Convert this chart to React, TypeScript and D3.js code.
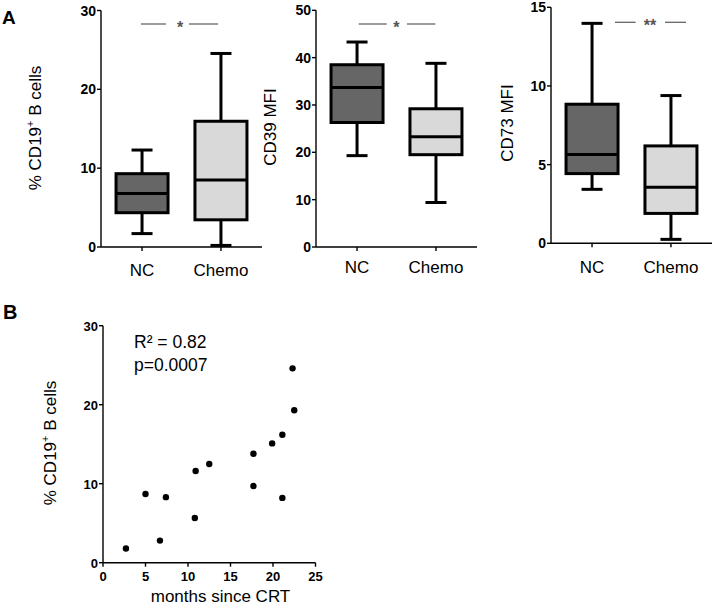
import React from "react";
import * as d3 from "d3";

const categories = ["NC", "Chemo"];

// box stats: [min, q1, median, q3, max]
const cd19Box = [
  [1.7, 4.35, 6.8, 9.3, 12.3],
  [0.2, 3.45, 8.5, 15.95, 24.55],
];
const cd39Box = [
  [19.3, 26.3, 33.7, 38.5, 43.3],
  [9.4, 19.5, 23.3, 29.2, 38.8],
];
const cd73Box = [
  [3.43, 4.43, 5.64, 8.84, 13.98],
  [0.25, 1.9, 3.56, 6.19, 9.39],
];

const cd19Ticks = [0, 10, 20, 30];
const cd39Ticks = [0, 10, 20, 30, 40, 50];
const cd73Ticks = [0, 5, 10, 15];

const monthsX = [2.7, 5.0, 7.4, 6.7, 10.9, 10.8, 12.5, 17.7, 17.7, 19.9, 21.1, 21.1, 22.3, 22.5];
const cd19Y = [1.8, 8.7, 8.3, 2.8, 11.6, 5.66, 12.5, 13.8, 9.7, 15.1, 16.2, 8.2, 24.6, 19.3];
const scatterXTicks = [0, 5, 10, 15, 20, 25];
const scatterYTicks = [0, 10, 20, 30];

const FONT = "'Liberation Sans', Arial, Helvetica, sans-serif";
const fills = ["#666666", "#d9d9d9"];

type PanelProps = {
  stats: number[][];
  ticks: number[];
  max: number;
  axisX: number;
  y0: number;
  yTop: number;
  label: React.ReactNode;
  labelX: number;
  labelY: number;
  catBaseline: number;
  sig: { y: number; l1: [number, number]; l2: [number, number]; sx: number; text: string };
};

function BoxPanel(p: PanelProps) {
  const y = d3.scaleLinear().domain([0, p.max]).range([p.y0, p.yTop]);
  const x = d3.scalePoint<string>().domain(categories).range([p.axisX, p.axisX + 161]).padding(0.52);
  const boxW = 52;
  const capW = 21;
  return (
    <g>
      <line x1={p.axisX} x2={p.axisX} y1={y(0)} y2={y(p.max)} stroke="#000" strokeWidth={1.4} />
      {p.ticks.map((t) => (
        <g key={t}>
          <line x1={p.axisX - 4} x2={p.axisX} y1={y(t)} y2={y(t)} stroke="#000" strokeWidth={1.4} />
          <text x={p.axisX - 5} y={y(t) + 5} textAnchor="end" fontSize={14} fontWeight="bold" fontFamily={FONT}>
            {t}
          </text>
        </g>
      ))}
      <line x1={p.axisX} x2={p.axisX + 161} y1={y(0)} y2={y(0)} stroke="#000" strokeWidth={1.4} />
      {categories.map((c) => (
        <g key={c}>
          <line x1={x(c)} x2={x(c)} y1={y(0)} y2={y(0) + 4} stroke="#000" strokeWidth={1.4} />
          <text x={x(c)} y={p.catBaseline} textAnchor="middle" fontSize={17} fontFamily={FONT}>
            {c}
          </text>
        </g>
      ))}
      {p.stats.map((s, i) => {
        const cx = x(categories[i]) as number;
        const [mn, q1, md, q3, mx] = s;
        return (
          <g key={i} stroke="#000" strokeWidth={3}>
            <line x1={cx} x2={cx} y1={y(mx)} y2={y(q3)} />
            <line x1={cx} x2={cx} y1={y(q1)} y2={y(mn)} />
            <line x1={cx - capW / 2} x2={cx + capW / 2} y1={y(mx)} y2={y(mx)} />
            <line x1={cx - capW / 2} x2={cx + capW / 2} y1={y(mn)} y2={y(mn)} />
            <rect x={cx - boxW / 2} y={y(q3)} width={boxW} height={y(q1) - y(q3)} fill={fills[i]} />
            <line x1={cx - boxW / 2} x2={cx + boxW / 2} y1={y(md)} y2={y(md)} />
          </g>
        );
      })}
      <g stroke="#666" strokeWidth={1.3}>
        <line x1={p.sig.l1[0]} x2={p.sig.l1[1]} y1={p.sig.y} y2={p.sig.y} />
        <line x1={p.sig.l2[0]} x2={p.sig.l2[1]} y1={p.sig.y} y2={p.sig.y} />
      </g>
      <text x={p.sig.sx} y={p.sig.y + 9} textAnchor="middle" fontSize={16} fontWeight="bold" fill="#555" fontFamily={FONT}>
        {p.sig.text}
      </text>
      <text
        transform={`translate(${p.labelX},${p.labelY}) rotate(-90)`}
        textAnchor="middle"
        dy="0.35em"
        fontSize={17}
        fontFamily={FONT}
      >
        {p.label}
      </text>
    </g>
  );
}

const cd19Label = (
  <>
    <tspan>% CD19</tspan>
    <tspan fontSize={11} dy={-7}>+</tspan>
    <tspan dy={7}> B cells</tspan>
  </>
);

export default function App() {
  const sx = d3.scaleLinear().domain([0, 25]).range([103, 315.5]);
  const sy = d3.scaleLinear().domain([0, 30]).range([562.7, 325.7]);
  return (
    <svg width={713} height={607} style={{ position: "absolute", left: 0, top: 0, background: "#fff" }}>
      <rect width={713} height={607} fill="#fff" />
      <text x={2} y={24} fontSize={19} fontWeight="bold" fontFamily={FONT}>A</text>
      <text x={3} y={319} fontSize={20} fontWeight="bold" fontFamily={FONT}>B</text>

      <BoxPanel
        stats={cd19Box}
        ticks={cd19Ticks}
        max={30}
        axisX={101}
        y0={247}
        yTop={10.5}
        label={cd19Label}
        labelX={35}
        labelY={128}
        catBaseline={276}
        sig={{ y: 24, l1: [141, 166], l2: [189, 218], sx: 180, text: "*" }}
      />
      <BoxPanel
        stats={cd39Box}
        ticks={cd39Ticks}
        max={50}
        axisX={316}
        y0={247}
        yTop={10.3}
        label="CD39 MFI"
        labelX={270}
        labelY={127}
        catBaseline={273}
        sig={{ y: 24, l1: [358.7, 386.7], l2: [407, 435.3], sx: 396.3, text: "*" }}
      />
      <BoxPanel
        stats={cd73Box}
        ticks={cd73Ticks}
        max={15}
        axisX={551}
        y0={243.3}
        yTop={7.3}
        label="CD73 MFI"
        labelX={506.7}
        labelY={123}
        catBaseline={273}
        sig={{ y: 22.3, l1: [615, 635.7], l2: [665, 686], sx: 650, text: "**" }}
      />

      <g>
        <line x1={sx(0)} x2={sx(0)} y1={sy(0)} y2={sy(30)} stroke="#000" strokeWidth={1.4} />
        {scatterYTicks.map((t) => (
          <g key={t}>
            <line x1={sx(0) - 4} x2={sx(0)} y1={sy(t)} y2={sy(t)} stroke="#000" strokeWidth={1.4} />
            <text x={sx(0) - 5} y={sy(t) + 5} textAnchor="end" fontSize={13} fontWeight="bold" fontFamily={FONT}>
              {t}
            </text>
          </g>
        ))}
        <line x1={sx(0)} x2={sx(25)} y1={sy(0)} y2={sy(0)} stroke="#000" strokeWidth={1.4} />
        {scatterXTicks.map((t) => (
          <g key={t}>
            <line x1={sx(t)} x2={sx(t)} y1={sy(0)} y2={sy(0) + 4} stroke="#000" strokeWidth={1.4} />
            <text x={sx(t)} y={sy(0) + 18} textAnchor="middle" fontSize={13} fontWeight="bold" fontFamily={FONT}>
              {t}
            </text>
          </g>
        ))}
        {monthsX.map((m, i) => (
          <circle key={i} cx={sx(m)} cy={sy(cd19Y[i])} r={3.2} fill="#000" />
        ))}
        <text x={134} y={348} fontSize={17.5} fontFamily={FONT}>R² = 0.82</text>
        <text x={134} y={371} fontSize={17.5} fontFamily={FONT}>p=0.0007</text>
        <text x={220.5} y={602} textAnchor="middle" fontSize={17} fontFamily={FONT}>months since CRT</text>
        <text
          transform={`translate(50,443) rotate(-90)`}
          textAnchor="middle"
          dy="0.35em"
          fontSize={17}
          fontFamily={FONT}
        >
          {cd19Label}
        </text>
      </g>
    </svg>
  );
}
